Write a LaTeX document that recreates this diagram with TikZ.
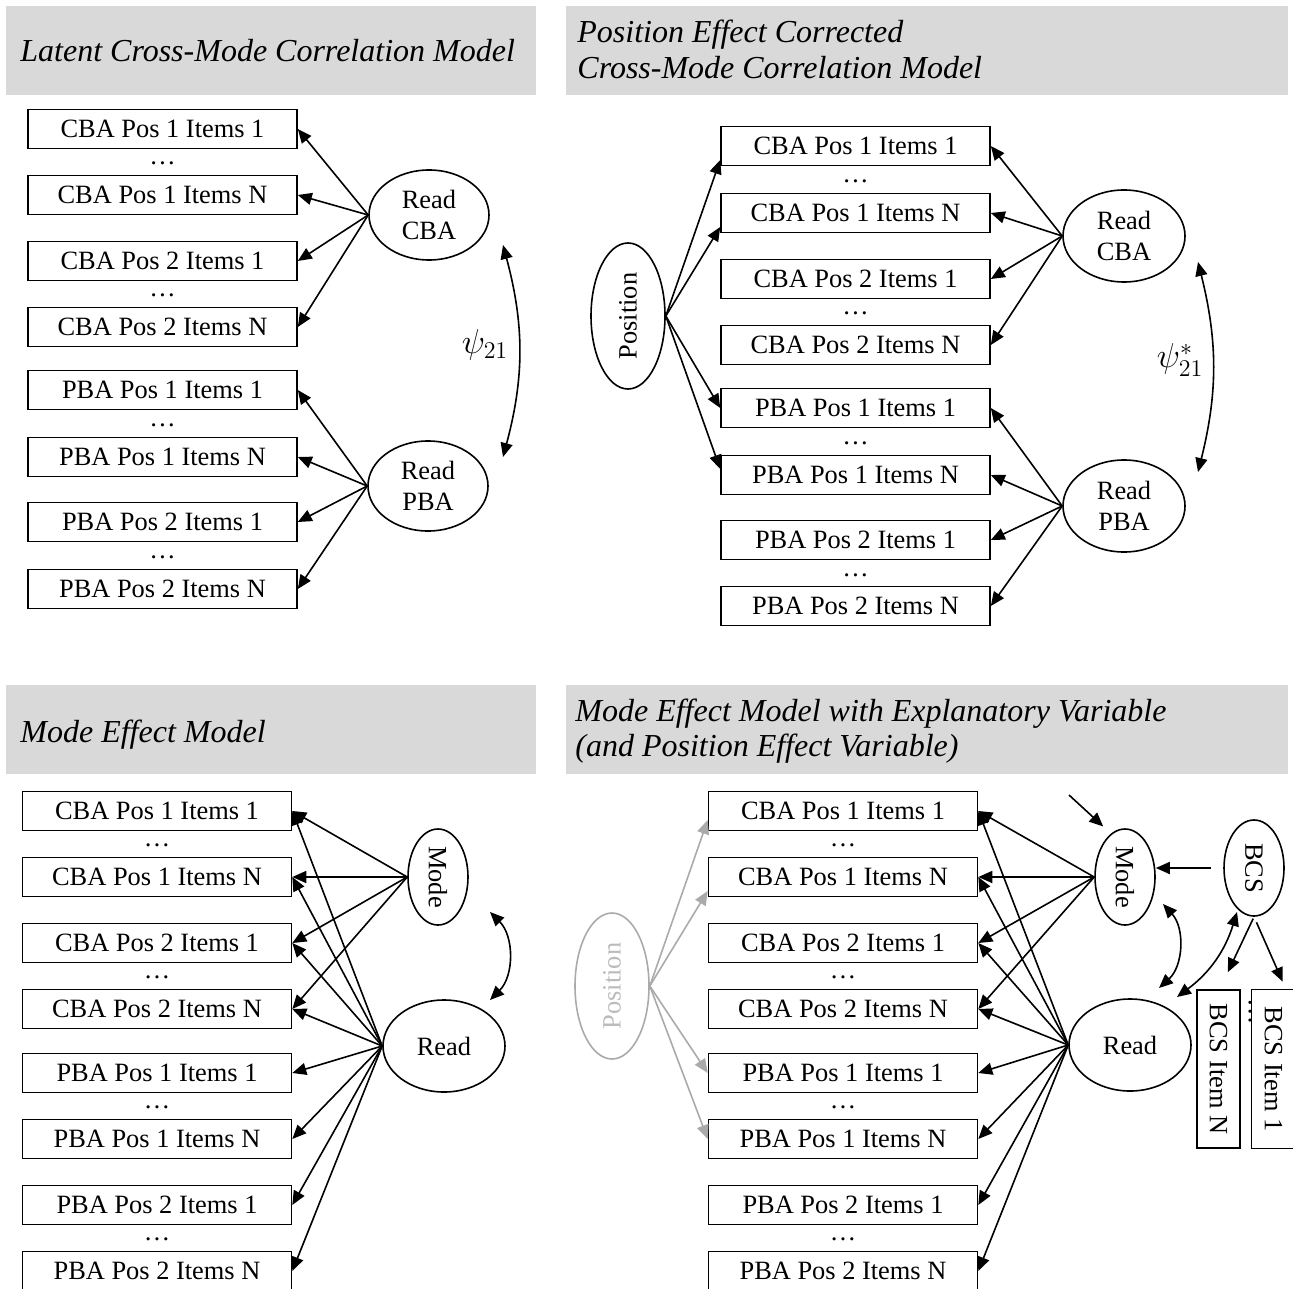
\documentclass[tikz,border=0pt]{standalone}
\usepackage{fontspec}
\setmainfont{Liberation Serif}
\usetikzlibrary{shapes.geometric,arrows.meta,calc}
\definecolor{hdrgray}{HTML}{D9D9D9}
\definecolor{posgray}{HTML}{AAAAAA}
\definecolor{postext}{HTML}{BBBBBB}
\begin{document}
\begin{tikzpicture}[x=0.5pt,y=-0.5pt,
  every node/.style={inner sep=0pt},
  obs/.style={draw, line width=0.8pt, minimum width=134.5pt, minimum height=19.5pt, font=\fontsize{13.2}{15.5}\selectfont},
  lat/.style={draw, ellipse, line width=0.8pt, align=center, font=\fontsize{13.2}{15.5}\selectfont},
  dotsnode/.style={font=\fontsize{13.2}{15.5}\selectfont},
  ttl/.style={anchor=base west, font=\fontsize{16}{19}\selectfont\itshape},
  arr/.style={-{Triangle[length=7pt,width=6pt]}, line width=0.8pt},
  dbl/.style={{Triangle[length=7pt,width=6pt]}-{Triangle[length=7pt,width=6pt]}, line width=0.8pt},
  garr/.style={arr, draw=posgray, -{Triangle[length=7pt,width=6pt,fill=posgray]}},
  psilab/.style={font=\fontsize{17}{20}\selectfont}
]
\useasboundingbox (0,0) rectangle (1293,1288);

% ---------- headers ----------
\fill[hdrgray] (6,6) rectangle (536,95);
\fill[hdrgray] (566,6) rectangle (1288,95);
\fill[hdrgray] (6,685) rectangle (536,774);
\fill[hdrgray] (566,685) rectangle (1288,774);
\node[ttl] (t1) at (20,62) {Latent Cross-Mode Correlation Model};
\node[ttl] (t2a) at (577,43) {Position Effect Corrected};
\node[ttl] (t2b) at (577,79) {Cross-Mode Correlation Model};
\node[ttl] (t3) at (20,742) {Mode Effect Model};
\node[ttl] (t4a) at (575,721) {Mode Effect Model with Explanatory Variable};
\node[ttl] (t4b) at (575,756) {(and Position Effect Variable)};

% ---------- panel 1 ----------
\foreach \n/\y/\t in {1/129/CBA Pos 1 Items 1, 2/195/CBA Pos 1 Items N, 3/261/CBA Pos 2 Items 1, 4/327/CBA Pos 2 Items N,
  5/390/PBA Pos 1 Items 1, 6/457/PBA Pos 1 Items N, 7/522/PBA Pos 2 Items 1, 8/589/PBA Pos 2 Items N}
  \node[obs] (A\n) at (162.5,\y) {\t};
\foreach \k/\y in {1/163,2/295,3/425,4/557}
  \node[dotsnode] (dA\k) at (162.5,\y) {\dots};
\node[lat, minimum width=60pt, minimum height=45pt] (rcA) at (429,215) {Read\\CBA};
\node[lat, minimum width=60pt, minimum height=45pt] (rpA) at (428,486) {Read\\PBA};
\foreach \n in {1,...,4} \draw[arr] (rcA.west) -- (A\n.east);
\foreach \n in {5,...,8} \draw[arr] (rpA.west) -- (A\n.east);
\coordinate (psiAt) at (503,245);
\coordinate (psiAb) at (503,457);
\draw[dbl] (psiAt) to[bend left=15] (psiAb);
\node[psilab] (psiA) at (485,345) {$\psi_{21}$};

% ---------- panel 2 ----------
\foreach \n/\y/\t in {1/146/CBA Pos 1 Items 1, 2/213/CBA Pos 1 Items N, 3/279/CBA Pos 2 Items 1, 4/345/CBA Pos 2 Items N,
  5/408/PBA Pos 1 Items 1, 6/475/PBA Pos 1 Items N, 7/540/PBA Pos 2 Items 1, 8/606/PBA Pos 2 Items N}
  \node[obs] (B\n) at (855.5,\y) {\t};
\foreach \k/\y in {1/181,2/313,3/443,4/575}
  \node[dotsnode] (dB\k) at (855.5,\y) {\dots};
\node[lat, minimum width=37pt, minimum height=73pt] (posB) at (628,316) {\rotatebox{90}{Position}};
\node[lat, minimum width=61pt, minimum height=46pt] (rcB) at (1124,236) {Read\\CBA};
\node[lat, minimum width=61pt, minimum height=46pt] (rpB) at (1124,506) {Read\\PBA};
\foreach \n in {1,...,4} \draw[arr] (rcB.west) -- (B\n.east);
\foreach \n in {5,...,8} \draw[arr] (rpB.west) -- (B\n.east);
\draw[arr] (posB.east) -- ([yshift=-7pt]B1.west);
\draw[arr] (posB.east) -- ([yshift=-7pt]B2.west);
\draw[arr] (posB.east) -- (B5.west);
\draw[arr] (posB.east) -- ([yshift=3pt]B6.west);
\coordinate (psiBt) at (1198,262);
\coordinate (psiBb) at (1198,472);
\draw[dbl] (psiBt) to[bend left=14] (psiBb);
\node[psilab] (psiB) at (1180,360) {$\psi^{*}_{21}$};

% ---------- panel 3 ----------
\foreach \n/\y/\t in {1/811/CBA Pos 1 Items 1, 2/877/CBA Pos 1 Items N, 3/943/CBA Pos 2 Items 1, 4/1009/CBA Pos 2 Items N,
  5/1073/PBA Pos 1 Items 1, 6/1139/PBA Pos 1 Items N, 7/1205/PBA Pos 2 Items 1, 8/1271/PBA Pos 2 Items N}
  \node[obs] (C\n) at (157,\y) {\t};
\foreach \k/\y in {1/845,2/977,3/1107,4/1239}
  \node[dotsnode] (dC\k) at (157,\y) {\dots};
\node[lat, minimum width=30pt, minimum height=48pt] (mC) at (438,877) {\rotatebox{-90}{Mode}};
\node[lat, minimum width=61pt, minimum height=46pt] (rC) at (444,1046) {Read};
\foreach \n in {1,...,4} \draw[arr] (mC.west) -- (C\n.east);
\foreach \n in {1,...,8} \draw[arr] (rC.west) -- (C\n.east);
\coordinate (mrCt) at (490,912);
\coordinate (mrCb) at (490,1000);
\draw[dbl] (mrCt) to[bend left=45] (mrCb);

% ---------- panel 4 ----------
\foreach \n/\y/\t in {1/811/CBA Pos 1 Items 1, 2/877/CBA Pos 1 Items N, 3/943/CBA Pos 2 Items 1, 4/1009/CBA Pos 2 Items N,
  5/1073/PBA Pos 1 Items 1, 6/1139/PBA Pos 1 Items N, 7/1205/PBA Pos 2 Items 1, 8/1271/PBA Pos 2 Items N}
  \node[obs] (D\n) at (843,\y) {\t};
\foreach \k/\y in {1/845,2/977,3/1107,4/1239}
  \node[dotsnode] (dD\k) at (843,\y) {\dots};
\node[lat, draw=posgray, text=postext, minimum width=37pt, minimum height=73pt] (posD) at (612,986) {\rotatebox{90}{Position}};
\node[lat, minimum width=30pt, minimum height=48pt] (mD) at (1125,877) {\rotatebox{-90}{Mode}};
\node[lat, minimum width=61pt, minimum height=46pt] (rD) at (1130,1045) {Read};
\node[lat, minimum width=30pt, minimum height=48pt] (bcs) at (1254,868) {\rotatebox{-90}{BCS}};
\foreach \n in {1,...,4} \draw[arr] (mD.west) -- (D\n.east);
\foreach \n in {1,...,8} \draw[arr] (rD.west) -- (D\n.east);
\draw[garr] (posD.east) -- ([yshift=-4.5pt]D1.west);
\draw[garr] (posD.east) -- ([yshift=-7pt]D2.west);
\draw[garr] (posD.east) -- (D5.west);
\draw[garr] (posD.east) -- (D6.west);
% BCS items
\node[obs, minimum width=21.5pt, minimum height=79pt] (iN) at (1218.5,1069) {\rotatebox{-90}{BCS Item N}};
\node[minimum width=21.5pt, minimum height=79pt, font=\fontsize{13.2}{15.5}\selectfont] (i1) at (1273.5,1069) {\rotatebox{-90}{BCS Item 1}};
\draw[line width=0.8pt] (i1.north east) -- (i1.north west) -- (i1.south west) -- (i1.south east);
\node[dotsnode] (dI) at (1250,1012) {\rotatebox{-90}{\dots}};
% connectors
\coordinate (freeM) at (1069,795);
\draw[arr] (freeM) -- ([yshift=8pt]mD.north west);
\draw[arr, shorten <=6pt] (bcs.west) -- (bcs.west -| mD.east);
\draw[arr, shorten <=1pt] (bcs.south) -- ([xshift=-6.5pt,yshift=8.5pt]iN.north east);
\draw[arr, shorten <=3pt] (bcs.south) -- ([xshift=15.5pt,yshift=4pt]i1.north west);
\coordinate (mrDt) at (1163,904);
\coordinate (mrDb) at (1159,988);
\draw[dbl] (mrDt) to[bend left=45] (mrDb);
\coordinate (brDt) at (1237,912);
\coordinate (brDb) at (1177,997);
\draw[dbl] (brDt) to[bend left=18] (brDb);
\end{tikzpicture}
\end{document}
